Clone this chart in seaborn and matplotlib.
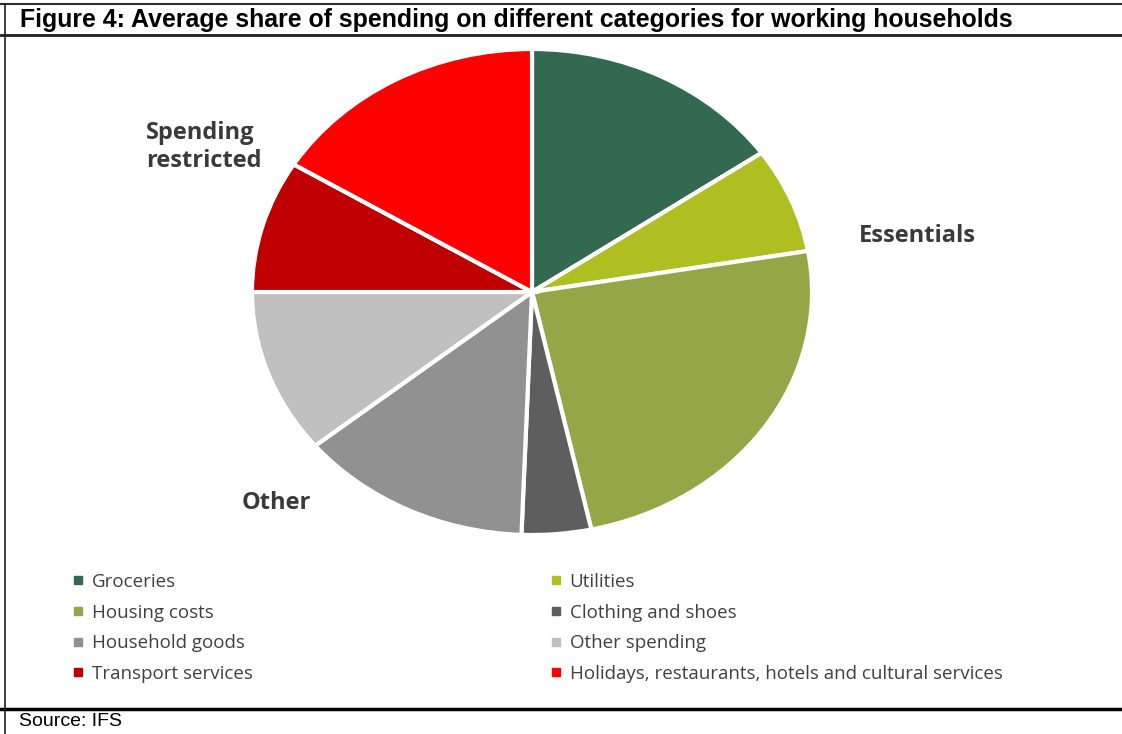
import matplotlib.pyplot as plt
import seaborn as sns
from matplotlib.lines import Line2D

sns.set_theme(style='white')
plt.rcParams['font.family'] = ['Open Sans', 'DejaVu Sans']

categories = ['Groceries', 'Utilities', 'Housing costs', 'Clothing and shoes',
              'Household goods', 'Other spending', 'Transport services',
              'Holidays, restaurants, hotels and cultural services']
shares = [15.3, 7.0, 24.3, 4.0, 13.5, 10.9, 8.8, 16.2]
colors = ['#336950', '#AFBF22', '#94A645', '#5E5E5E',
          '#919191', '#C0C0C0', '#C00000', '#FF0000']
palette = sns.color_palette(colors)

title = 'Figure 4: Average share of spending on different categories for working households'
source = 'Source: IFS'

W, H = 1122, 734
fig = plt.figure(figsize=(W / 100, H / 100), dpi=100)

# pie axes, stretched a bit wider than tall like the original
cx, cy, rx, ry = 532, 292, 280, 243
ax = fig.add_axes([(cx - rx) / W, 1 - (cy + ry) / H, 2 * rx / W, 2 * ry / H])
ax.pie(shares, colors=palette, startangle=90, counterclock=False,
       wedgeprops=dict(edgecolor='white', linewidth=3))
ax.set_aspect('auto')
ax.set_xlim(-1, 1)
ax.set_ylim(-1, 1)
ax.axis('off')

lab = dict(fontsize=17, fontweight='bold', color='#3a3a3a', va='center')
fig.text(146 / W, 1 - 147 / H, 'Spending\nrestricted', ha='left',
         linespacing=1.2, **lab)
fig.text(859 / W, 1 - 236 / H, 'Essentials', ha='left', **lab)
fig.text(242 / W, 1 - 503 / H, 'Other', ha='left', **lab)

# legend in two columns, row-wise order
def handles(idx):
    return [Line2D([], [], marker='s', linestyle='none', markersize=6,
                   markerfacecolor=palette[i], markeredgecolor=palette[i])
            for i in idx]

left_idx = [0, 2, 4, 6]
right_idx = [1, 3, 5, 7]
for idx, x0 in [(left_idx, 72), (right_idx, 550)]:
    fig.legend(handles(idx), [categories[i] for i in idx],
               loc='upper left', bbox_to_anchor=(x0 / W, 1 - 573 / H),
               frameon=False, fontsize=13.5, labelcolor='#404040',
               handlelength=0.6, handletextpad=0.45, labelspacing=0.67,
               borderaxespad=0, borderpad=0)

# frame lines
fig.add_artist(Line2D([0, 1], [1 - 4 / H, 1 - 4 / H], color='#303030', lw=1.5))
fig.add_artist(Line2D([0, 1], [1 - 35 / H, 1 - 35 / H], color='#202020', lw=2))
fig.add_artist(Line2D([0, 1], [1 - 709 / H, 1 - 709 / H], color='black', lw=2.5))
fig.add_artist(Line2D([5 / W, 5 / W], [0, 1 - 4 / H], color='#202020', lw=1.2))

fig.text(20 / W, 1 - 20 / H, title, fontsize=17.9, fontweight='bold',
         family=['Liberation Sans', 'DejaVu Sans'], color='black',
         ha='left', va='center')
fig.text(19 / W, 1 - 722 / H, source, fontsize=14,
         family=['Liberation Sans', 'DejaVu Sans'], color='black',
         ha='left', va='center')

fig.savefig('out.png', dpi=100)
